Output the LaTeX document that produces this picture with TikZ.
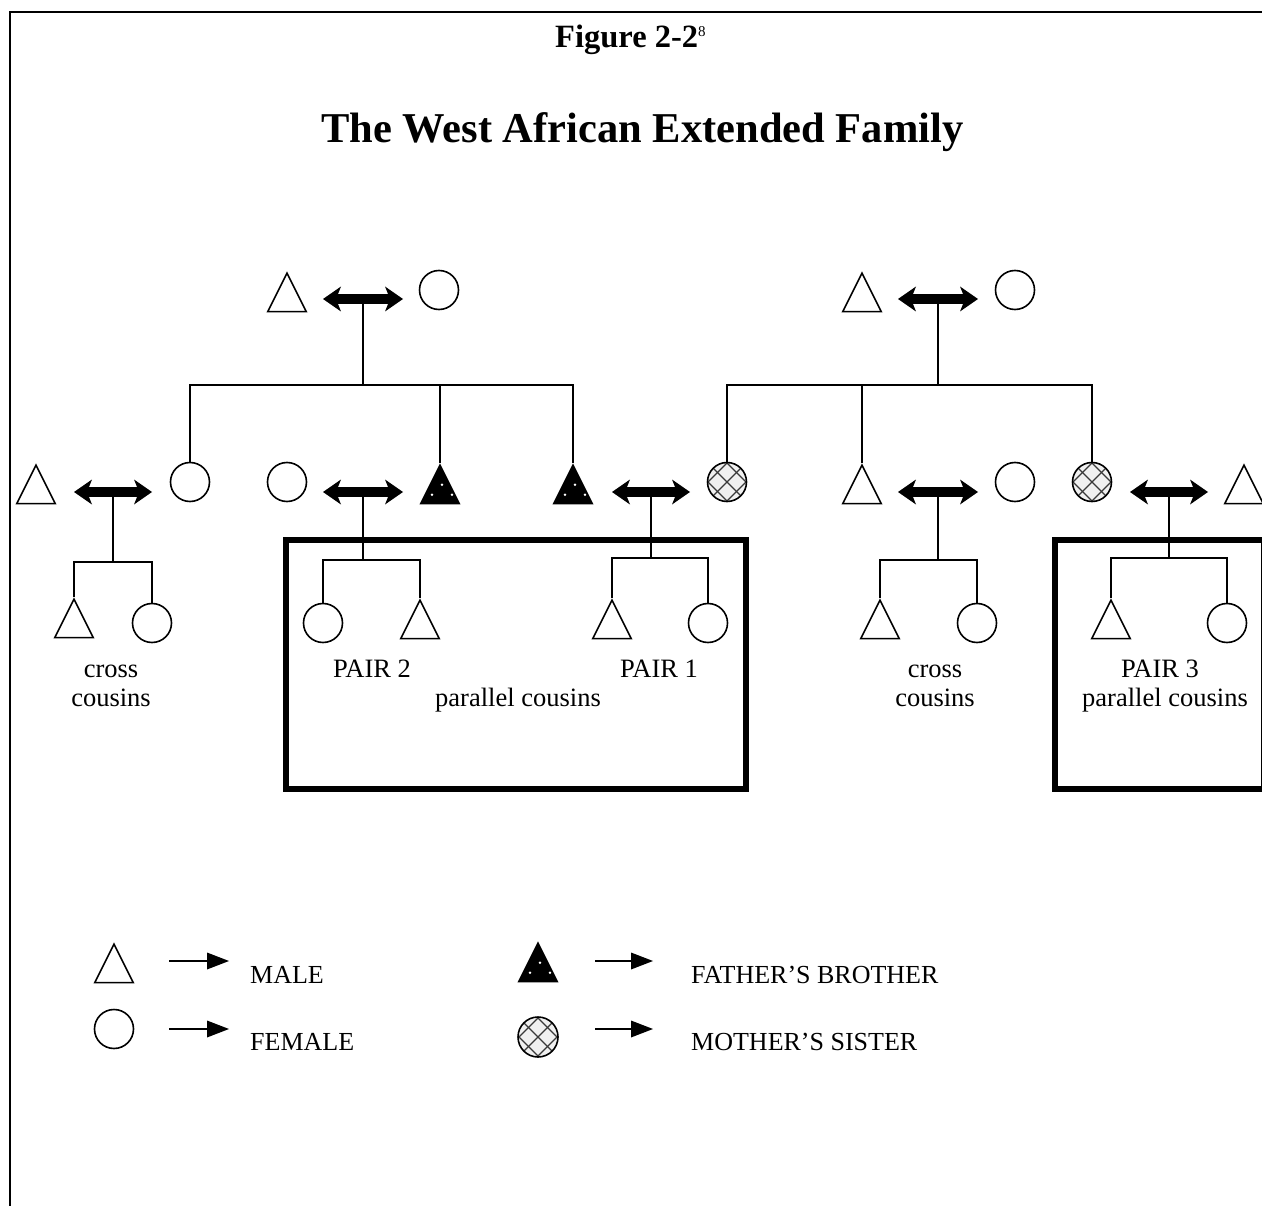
\documentclass[tikz,border=0pt]{standalone}
\usepackage{fontspec}
\setmainfont{Liberation Serif}
\usetikzlibrary{shapes.geometric,arrows.meta}
\begin{document}
\begin{tikzpicture}[x=1pt,y=-1pt,
  kin/.style={line width=1.6pt},
  malenode/.style={isosceles triangle, shape border rotate=90, isosceles triangle stretches,
    minimum width=38.5pt, minimum height=38.5pt, inner sep=0pt, draw, line width=1.6pt,
    fill=white, anchor=apex},
  femalenode/.style={circle, minimum size=39pt, inner sep=0pt, draw, line width=1.6pt, fill=white},
  fbronode/.style={malenode, fill=black,
    path picture={\begin{scope}[shift={(path picture bounding box.center)}]
      \fill[white] (2,-7) circle (1.4pt) (-8,3) circle (1.4pt) (12,3) circle (1.4pt);
    \end{scope}}},
  msisnode/.style={femalenode, fill=gray!12,
    path picture={\begin{scope}[shift={(path picture bounding box.center)}]
      \foreach \c in {-19,0,19}{
        \draw[gray!45!black, line width=1.3pt] (-30,-30+\c) -- (30,30+\c);
        \draw[gray!45!black, line width=1.3pt] (-30,30+\c) -- (30,-30+\c);}
    \end{scope}}},
  marriage/.style={line width=10.5pt,
    {Stealth[length=18pt,width=25pt,inset=5pt,line width=0pt]}-{Stealth[length=18pt,width=25pt,inset=5pt,line width=0pt]}},
  legarrow/.style={line width=2pt, -{Triangle[length=22pt,width=17pt,line width=0pt]}},
  cousinbox/.style={line width=6pt},
  txt/.style={inner sep=0pt, anchor=base, font=\fontsize{26.5}{30}\selectfont},
  legtxt/.style={inner sep=0pt, anchor=base west, font=\fontsize{26}{30}\selectfont}
]
\useasboundingbox (0,0) rectangle (1262,1206);
\clip (0,0) rectangle (1262,1206);
\fill[white] (0,0) rectangle (1262,1206);

% frame
\coordinate (frameBL) at (10,1215);
\coordinate (frameTL) at (10,12);
\coordinate (frameTR) at (1275,12);
\draw[line width=2.2pt] (frameBL) -- (frameTL) -- (frameTR);

% titles
\node[inner sep=0pt, anchor=base west, font=\bfseries\fontsize{32.5}{36}\selectfont] (fig) at (555,48)
  {Figure 2-2\raisebox{11pt}{\normalfont\fontsize{15}{15}\selectfont 8}};
\node[inner sep=0pt, anchor=base west, font=\bfseries\fontsize{42.5}{48}\selectfont] (title) at (321,143)
  {The West African Extended Family};

% cousin boxes
\draw[cousinbox] (286,540) rectangle (746,789);
\draw[cousinbox] (1055,540) rectangle (1264,789);

% generation 1
\node[malenode] (gm1) at (287,271) {};
\node[femalenode] (gf1) at (439,290) {};
\node[malenode] (gm2) at (862,271) {};
\node[femalenode] (gf2) at (1015,290) {};
\coordinate (a1l) at (323,299); \coordinate (a1r) at (403,299);
\coordinate (a2l) at (898,299); \coordinate (a2r) at (978,299);
\draw[marriage] (a1l) -- (a1r);
\draw[marriage] (a2l) -- (a2r);
\coordinate (d1) at (363,299);
\coordinate (d2) at (938,299);
\coordinate (bar1) at (0,385);

% generation 2
\node[malenode] (p1) at (36,463) {};
\node[femalenode] (p2) at (190,482) {};
\node[femalenode] (p3) at (287,482) {};
\node[fbronode] (p4) at (440,463) {};
\node[fbronode] (p5) at (573,463) {};
\node[msisnode] (p6) at (727,482) {};
\node[malenode] (p7) at (862,463) {};
\node[femalenode] (p8) at (1015,482) {};
\node[msisnode] (p9) at (1092,482) {};
\node[malenode] (p10) at (1244,463) {};

\coordinate (b1l) at (74,492);   \coordinate (b1r) at (152,492);
\coordinate (b2l) at (323,492);  \coordinate (b2r) at (403,492);
\coordinate (b3l) at (612,492);  \coordinate (b3r) at (690,492);
\coordinate (b4l) at (898,492);  \coordinate (b4r) at (978,492);
\coordinate (b5l) at (1130,492); \coordinate (b5r) at (1208,492);
\foreach \i in {1,...,5} \draw[marriage] (b\i l) -- (b\i r);

% descent lines generation 1 -> 2
\draw[kin] (d1) -- (d1 |- bar1);
\draw[kin] (p2.north) -- (p2.north |- bar1) -- (p5.apex |- bar1) -- (p5.apex);
\draw[kin] (p4.apex) -- (p4.apex |- bar1);
\draw[kin] (d2) -- (d2 |- bar1);
\draw[kin] (p6.north) -- (p6.north |- bar1) -- (p9.north |- bar1) -- (p9.north);
\draw[kin] (p7.apex) -- (p7.apex |- bar1);

% generation 3
\node[malenode] (c1) at (74,597) {};
\node[femalenode] (c2) at (152,623) {};
\node[femalenode] (c3) at (323,623) {};
\node[malenode] (c4) at (420,598) {};
\node[malenode] (c5) at (612,598) {};
\node[femalenode] (c6) at (708,623) {};
\node[malenode] (c7) at (880,598) {};
\node[femalenode] (c8) at (977,623) {};
\node[malenode] (c9) at (1111,598) {};
\node[femalenode] (c10) at (1227,623) {};

\coordinate (e1) at (113,492); \coordinate (bar2a) at (0,562);
\coordinate (e2) at (363,492); \coordinate (bar2b) at (0,560);
\coordinate (e3) at (651,492); \coordinate (bar2c) at (0,558);
\coordinate (e4) at (938,492); \coordinate (bar2d) at (0,560);
\coordinate (e5) at (1169,492); \coordinate (bar2e) at (0,558);

\draw[kin] (e1) -- (e1 |- bar2a);
\draw[kin] (c1.apex) -- (c1.apex |- bar2a) -- (c2.north |- bar2a) -- (c2.north);
\draw[kin] (e2) -- (e2 |- bar2b);
\draw[kin] (c3.north) -- (c3.north |- bar2b) -- (c4.apex |- bar2b) -- (c4.apex);
\draw[kin] (e3) -- (e3 |- bar2c);
\draw[kin] (c5.apex) -- (c5.apex |- bar2c) -- (c6.north |- bar2c) -- (c6.north);
\draw[kin] (e4) -- (e4 |- bar2d);
\draw[kin] (c7.apex) -- (c7.apex |- bar2d) -- (c8.north |- bar2d) -- (c8.north);
\draw[kin] (e5) -- (e5 |- bar2e);
\draw[kin] (c9.apex) -- (c9.apex |- bar2e) -- (c10.north |- bar2e) -- (c10.north);

% labels
\node[txt] (t1a) at (111,677) {cross};
\node[txt] (t1b) at (111,706) {cousins};
\node[txt] (t2) at (372,677) {PAIR 2};
\node[txt] (t3) at (659,677) {PAIR 1};
\node[txt] (t4) at (518,706) {parallel cousins};
\node[txt] (t5a) at (935,677) {cross};
\node[txt] (t5b) at (935,706) {cousins};
\node[txt] (t6a) at (1160,677) {PAIR 3};
\node[txt] (t6b) at (1165,706) {parallel cousins};

% legend
\node[malenode] (lm) at (114,942) {};
\node[femalenode] (lf) at (114,1029) {};
\node[fbronode] (lb) at (538,941) {};
\node[msisnode, minimum size=40pt] (ls) at (538,1037) {};
\coordinate (l1a) at (169,961); \coordinate (l1b) at (229,961);
\coordinate (l2a) at (169,1029); \coordinate (l2b) at (229,1029);
\coordinate (l3a) at (595,961); \coordinate (l3b) at (653,961);
\coordinate (l4a) at (595,1029); \coordinate (l4b) at (653,1029);
\foreach \i in {1,...,4} \draw[legarrow] (l\i a) -- (l\i b);
\node[legtxt] (lt1) at (250,983) {MALE};
\node[legtxt] (lt2) at (250,1050) {FEMALE};
\node[legtxt] (lt3) at (691,983) {FATHER’S BROTHER};
\node[legtxt] (lt4) at (691,1050) {MOTHER’S SISTER};
\end{tikzpicture}
\end{document}
